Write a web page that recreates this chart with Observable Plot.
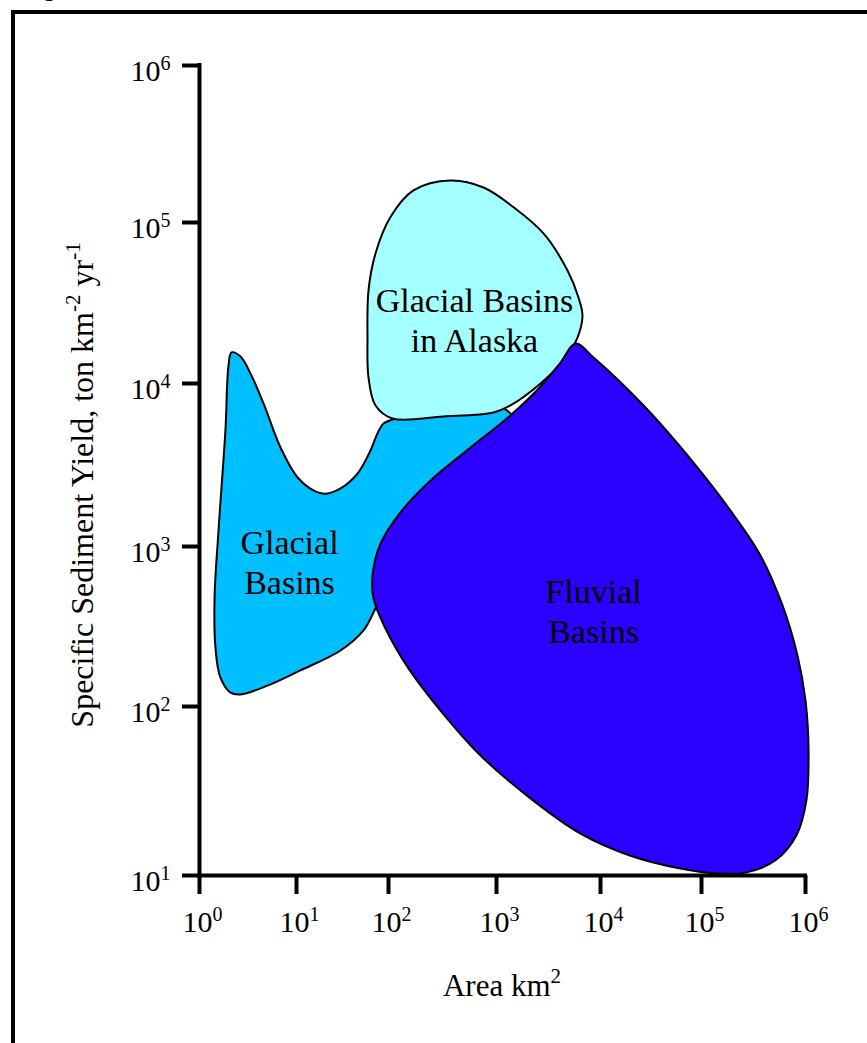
<!DOCTYPE html>
<html>
<head>
<meta charset="utf-8">
<script src="https://cdn.jsdelivr.net/npm/d3@7"></script>
<script src="https://cdn.jsdelivr.net/npm/@observablehq/plot@0.6"></script>
<style>
  html, body { margin: 0; padding: 0; background: #fff; overflow: hidden; }
  #wrap { position: relative; width: 867px; height: 1043px; overflow: hidden;
          font-family: "Liberation Serif", "Times New Roman", serif; }
  #frame { position: absolute; left: 11px; top: 10px; width: 1000px; height: 1200px;
           border: 4px solid #000; box-sizing: border-box; pointer-events: none; }
  #fig { position: absolute; left: 22px; top: -25px; line-height: 24px;
         font: bold 24px "Liberation Serif", serif; }
  #chart { position: absolute; left: 0; top: 0; }
</style>
</head>
<body>
<div id="wrap">
  <div id="fig">Figure</div>
  <div id="chart"></div>
  <div id="frame"></div>
</div>
<script>
// Axis ticks (log decades) and their exponent labels
const areaTicks = [1, 10, 100, 1e3, 1e4, 1e5, 1e6];
const areaExponents = ["0", "1", "2", "3", "4", "5", "6"];
const yieldTicks = [10, 100, 1e3, 1e4, 1e5, 1e6];
const yieldExponents = ["1", "2", "3", "4", "5", "6"];

// Glacial basins envelope: area (km²) and specific sediment yield (t km⁻² yr⁻¹)
const glacialArea  = [2.14, 2.65, 3.36, 4.57, 6.84, 10.3, 15.3, 20.7, 30.1, 46.0, 63.7, 75.9, 88.3, 109, 245, 1090, 1700, 575, 198, 92.7, 68.7, 53.5, 30.1, 11.0, 5.02, 2.65, 2.09, 1.64, 1.46, 1.43, 1.57, 1.85, 1.99];
const glacialYield = [15600, 14700, 11500, 7540, 4050, 2650, 2210, 2110, 2270, 2800, 3880, 4940, 5680, 6010, 7030, 7230, 5000, 2730, 1250, 570, 387, 299, 224, 168, 135, 119, 122, 152, 234, 480, 1250, 5150, 12900];

// Glacial basins in Alaska envelope
const alaskaArea  = [375, 758, 1460, 2830, 4820, 6140, 6710, 6010, 4410, 2650, 1360, 938, 323, 109, 72.2, 60.6, 59.1, 60.6, 72.2, 104, 170];
const alaskaYield = [185000, 167000, 125000, 85500, 50300, 34200, 26400, 19300, 13900, 10000, 7330, 6640, 6280, 6100, 7330, 10900, 19300, 37800, 64200, 108000, 160000];

// Fluvial basins envelope
const fluvialArea  = [5750, 8570, 26700, 83300, 190000, 369000, 601000, 838000, 1000000, 1070000, 1020000, 819000, 515000, 265000, 136000, 61900, 19800, 6420, 2120, 711, 303, 153, 92.7, 68.7, 67.0, 81.8, 129, 245, 575, 1360, 2650, 4130];
const fluvialYield = [17700, 14500, 7330, 3270, 1660, 879, 428, 208, 109, 54.9, 27.8, 17.3, 12.3, 10.4, 10.3, 11.0, 13.1, 17.7, 28.6, 51.3, 94.6, 173, 307, 473, 659, 1040, 1620, 2540, 4050, 6370, 9590, 13500];

// Region labels, anchored at the baseline of their last line
const regionNames = ["Glacial Basins\nin Alaska", "Glacial\nBasins", "Fluvial\nBasins"];
const regionArea  = [625, 8.47, 8570];
const regionYield = [15800, 508, 251];

const toRows = (area, yld) => area.map((a, i) => ({area: a, yield: yld[i]}));
const envelope = (area, yld, fill) =>
  Plot.line(toRows(area, yld), {
    x: "area", y: "yield", curve: "catmull-rom-closed",
    fill, stroke: "#000", strokeWidth: 2, strokeLinejoin: "round"
  });

const labels = regionNames.map((t, i) => ({text: t, area: regionArea[i], yield: regionYield[i]}));
const font = "'Liberation Serif', 'Times New Roman', serif";

const chart = Plot.plot({
  width: 867,
  height: 1043,
  marginLeft: 199,
  marginRight: 62,
  marginTop: 65,
  marginBottom: 168,
  style: {background: "transparent", fontFamily: font, color: "#000"},
  x: {type: "log", domain: areaTicks, range: [199, 296, 388, 496, 600, 701, 805]},
  y: {type: "log", domain: yieldTicks, range: [875, 706, 546, 383, 222, 65]},
  marks: [
    envelope(glacialArea, glacialYield, "#00BFFF"),
    envelope(alaskaArea, alaskaYield, "#A4FFFF"),
    envelope(fluvialArea, fluvialYield, "#2B00FF"),
    Plot.text(labels, {
      x: "area", y: "yield", text: "text", lineAnchor: "bottom", lineHeight: 1.15,
      fontSize: 34, fill: "#000"
    }),
    // axis lines
    Plot.ruleY([10], {x1: 1, x2: 1e6, stroke: "#000", strokeWidth: 4, strokeLinecap: "square"}),
    Plot.ruleX([1], {y1: 10, y2: 1e6, stroke: "#000", strokeWidth: 4, strokeLinecap: "square"}),
    // tick marks
    Plot.axisX(areaTicks, {tickSize: 19, strokeWidth: 4, tickFormat: () => "", label: null}),
    Plot.axisY(yieldTicks, {tickSize: 17, strokeWidth: 4, tickFormat: () => "", label: null}),
    // tick labels: base and superscript exponent
    Plot.text(areaTicks, {x: d => d, frameAnchor: "bottom", text: () => "10",
      lineAnchor: "bottom", dy: 56, dx: -2, fontSize: 30, fill: "#000"}),
    Plot.text(areaTicks, {x: d => d, frameAnchor: "bottom", text: (d, i) => areaExponents[i],
      lineAnchor: "bottom", textAnchor: "start", dy: 45, dx: 13, fontSize: 20, fill: "#000"}),
    Plot.text(yieldTicks, {y: d => d, frameAnchor: "left", text: () => "10",
      lineAnchor: "bottom", textAnchor: "end", dx: -39, dy: 15, fontSize: 30, fill: "#000"}),
    Plot.text(yieldTicks, {y: d => d, frameAnchor: "left", text: (d, i) => yieldExponents[i],
      lineAnchor: "bottom", textAnchor: "start", dx: -39, dy: 4, fontSize: 20, fill: "#000"})
  ]
});

document.getElementById("chart").append(chart);

// Axis titles with superscripts
const svg = d3.select(chart);
const xt = svg.append("text")
  .attr("x", 502).attr("y", 996)
  .attr("text-anchor", "middle")
  .attr("font-family", font).attr("font-size", 31).attr("fill", "#000");
xt.append("tspan").text("Area km");
xt.append("tspan").attr("dy", -13).attr("font-size", 21).text("2");

const yt = svg.append("text")
  .attr("transform", "translate(93,485) rotate(-90)")
  .attr("text-anchor", "middle")
  .attr("font-family", font).attr("font-size", 32).attr("fill", "#000");
yt.append("tspan").text("Specific Sediment Yield, ton km");
yt.append("tspan").attr("dy", -13).attr("font-size", 21).text("-2");
yt.append("tspan").attr("dy", 13).text(" yr");
yt.append("tspan").attr("dy", -13).attr("font-size", 21).text("-1");
</script>
</body>
</html>
